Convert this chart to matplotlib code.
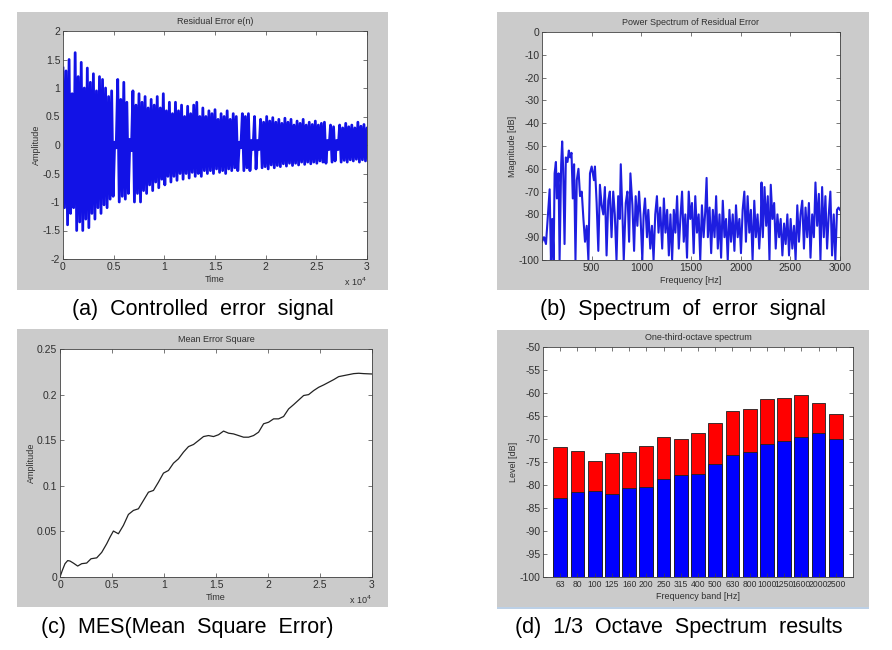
import numpy as np
import matplotlib
matplotlib.use("Agg")
import matplotlib.pyplot as plt
from matplotlib.patches import Rectangle

plt.rcParams['font.family'] = ['Liberation Sans', 'DejaVu Sans']
plt.rcParams['axes.unicode_minus'] = False

# (a) residual error e(n): positive / negative swing read every 300 samples
t_a = np.arange(0, 30001, 300)
hi_a = [1.35, 1.3, 1.5, 0.9, 1.62, 1.2, 1.45, 1.0, 1.35, 1.1,
        1.25, 0.95, 1.2, 1.15, 1.0, 0.85, 0.95, 0.05, 1.15, 0.8,
        1.1, 0.75, 0.1, 0.95, 0.7, 0.9, 0.75, 0.85, 0.65, 0.8,
        0.7, 0.85, 0.65, 0.9, 0.6, 0.75, 0.55, 0.75, 0.6, 0.7,
        0.5, 0.68, 0.55, 0.7, 0.75, 0.5, 0.65, 0.5, 0.6, 0.55,
        0.62, 0.45, 0.55, 0.5, 0.6, 0.45, 0.55, 0.5, 0.05, 0.55,
        0.5, 0.55, 0.08, 0.5, 0.08, 0.45, 0.4, 0.5, 0.42, 0.48,
        0.4, 0.45, 0.38, 0.47, 0.4, 0.45, 0.35, 0.42, 0.38, 0.45,
        0.35, 0.4, 0.36, 0.42, 0.35, 0.38, 0.4, 0.08, 0.35, 0.32,
        0.08, 0.35, 0.3, 0.38, 0.32, 0.35, 0.3, 0.4, 0.33, 0.36, 0.3]
lo_a = [-1.1, -1.4, -1.2, -1.1, -1.5, -1.35, -1.5, -1.3, -1.45, -1.2,
        -1.3, -1.1, -1.2, -1.05, -1.1, -0.95, -0.9, -0.05, -1.0, -0.9,
        -0.95, -0.85, -0.1, -1.0, -0.85, -1.0, -0.8, -0.85, -0.7, -0.8,
        -0.65, -0.75, -0.6, -0.7, -0.55, -0.65, -0.55, -0.62, -0.5, -0.6,
        -0.5, -0.58, -0.48, -0.55, -0.5, -0.55, -0.45, -0.5, -0.45, -0.5,
        -0.42, -0.48, -0.45, -0.5, -0.42, -0.45, -0.4, -0.45, -0.05, -0.45,
        -0.4, -0.45, -0.08, -0.42, -0.08, -0.4, -0.38, -0.42, -0.35, -0.4,
        -0.36, -0.38, -0.33, -0.37, -0.32, -0.36, -0.32, -0.35, -0.3, -0.34,
        -0.3, -0.33, -0.3, -0.32, -0.28, -0.3, -0.32, -0.08, -0.3, -0.28,
        -0.08, -0.3, -0.27, -0.3, -0.26, -0.28, -0.25, -0.3, -0.26, -0.28, -0.25]

# (b) power spectrum of residual error
spec_f = [0, 20, 40, 60, 77, 90, 103, 117, 127, 140, 150, 167, 177, 193, 203,
          213, 227, 240, 257, 270, 283, 297, 310, 323, 337, 350, 367, 383, 400,
          417, 433, 450, 467, 483, 500, 523, 533, 550, 567, 583, 600, 617, 633,
          650, 667, 683, 700, 717, 733, 750, 767, 783, 793, 810, 823, 843, 860,
          877, 890, 910, 927, 943, 960, 977, 993, 1010, 1023, 1037, 1057, 1070,
          1090, 1107, 1123, 1140, 1157, 1173, 1190, 1210, 1227, 1243, 1260, 1277,
          1293, 1310, 1327, 1343, 1360, 1377, 1393, 1410, 1427, 1443, 1460, 1477,
          1493, 1510, 1527, 1543, 1560, 1577, 1593, 1610, 1627, 1643, 1657, 1670,
          1687, 1703, 1720, 1737, 1753, 1770, 1787, 1803, 1820, 1837, 1853, 1870,
          1887, 1903, 1920, 1937, 1953, 1970, 1987, 2003, 2020, 2037, 2053, 2070,
          2087, 2103, 2120, 2137, 2153, 2170, 2187, 2203, 2210, 2223, 2240, 2257,
          2273, 2290, 2303, 2320, 2337, 2353, 2370, 2387, 2403, 2420, 2437, 2453,
          2470, 2487, 2503, 2520, 2537, 2553, 2570, 2587, 2603, 2620, 2637, 2653,
          2670, 2687, 2703, 2720, 2737, 2753, 2770, 2787, 2803, 2820, 2837, 2853,
          2870, 2887, 2903, 2920, 2937, 2953, 2970, 2985, 3000]
spec_db = [-92, -90, -93, -80, -69, -100, -82, -100, -62, -57, -73, -62, -100, -58, -48,
           -60, -93, -55, -57, -52, -55, -53, -73, -58, -100, -65, -60, -72, -70,
           -82, -92, -85, -100, -62, -59, -65, -59, -75, -96, -67, -76, -80, -68,
           -98, -74, -70, -90, -70, -80, -100, -72, -82, -58, -80, -100, -75, -70,
           -92, -62, -76, -96, -72, -85, -70, -82, -100, -80, -73, -90, -78,
           -95, -85, -100, -80, -72, -88, -77, -95, -73, -88, -78, -98,
           -80, -100, -78, -88, -72, -95, -82, -70, -92, -80, -99, -70,
           -82, -75, -97, -72, -88, -80, -100, -76, -90, -79, -64, -90,
           -77, -97, -78, -90, -72, -95, -80, -99, -74, -90, -82, -100,
           -78, -92, -80, -96, -76, -90, -82, -97, -78, -70, -92, -72,
           -88, -78, -100, -74, -90, -80, -95, -82, -66, -90, -68, -85,
           -72, -100, -67, -82, -75, -95, -80, -90, -82, -98, -84, -93,
           -80, -98, -82, -95, -85, -100, -76, -92, -80, -74, -95, -77,
           -90, -75, -99, -80, -90, -66, -85, -71, -100, -68, -90, -72,
           -95, -80, -70, -98, -80, -100, -78, -77, -78]

# (c) mean error square
t_c = [0, 225, 481, 738, 963, 1280, 1700, 2086, 2567, 2984, 3530, 4011, 4493,
       4813, 5134, 5616, 6097, 6578, 7060, 7541, 8022, 8504, 8985, 9466, 9948,
       10429, 10911, 11392, 11873, 12355, 12836, 13317, 13799, 14280, 14761,
       15243, 15724, 16206, 16687, 17168, 17650, 18131, 18612, 19094, 19575,
       20056, 20538, 21019, 21500, 21982, 22463, 22945, 23426, 23907, 24389,
       24870, 25351, 25833, 26314, 26795, 27277, 27758, 28239, 28721, 29202, 30000]
mse_c = [0, 0.0073, 0.0146, 0.018, 0.0175, 0.0153, 0.012, 0.0146, 0.0153, 0.020,
         0.021, 0.027, 0.0365, 0.0438, 0.0504, 0.0474, 0.0566, 0.0686, 0.073,
         0.0748, 0.0839, 0.093, 0.0949, 0.104, 0.1139, 0.1168, 0.1248, 0.1296,
         0.1369, 0.143, 0.1453, 0.1496, 0.154, 0.1551, 0.154, 0.156, 0.160,
         0.1577, 0.1569, 0.1551, 0.1533, 0.1533, 0.1551, 0.1588, 0.168, 0.1697,
         0.1734, 0.1734, 0.176, 0.1843, 0.189, 0.194, 0.199, 0.2, 0.2044, 0.208,
         0.2106, 0.2135, 0.2164, 0.2197, 0.2208, 0.2219, 0.223, 0.2234, 0.223, 0.2226]

# (d) one-third-octave spectrum
bands = ['63', '80', '100', '125', '160', '200', '250', '315', '400', '500',
         '630', '800', '1000', '1250', '1600', '2000', '2500']
level_red = [-71.8, -72.7, -74.8, -73.1, -72.9, -71.6, -69.6, -70.0, -68.7, -66.5,
             -64.0, -63.5, -61.3, -61.0, -60.5, -62.2, -64.6]
level_blue = [-82.9, -81.6, -81.2, -81.9, -80.6, -80.5, -78.8, -77.8, -77.5, -75.5,
              -73.5, -72.8, -71.0, -70.4, -69.5, -68.8, -70.0]

captions = ['(a)  Controlled  error  signal', '(b)  Spectrum  of  error  signal',
            '(c)  MES(Mean  Square  Error)', '(d)  1/3  Octave  Spectrum  results']

W, H = 892, 650
GRAY = '#cbcbcb'
TXT = '#303030'
FS = 6.5     # titles / axis labels
FT = 7.5     # tick labels


def fbox(x0, y0, x1, y1):
    # pixel box (top-left origin) -> figure fraction rect
    return [x0 / W, 1 - y1 / H, (x1 - x0) / W, (y1 - y0) / H]


def matlab_axes(fig, rect):
    ax = fig.add_axes(rect, zorder=2)
    ax.set_facecolor('white')
    for s in ax.spines.values():
        s.set_color('#404040')
        s.set_linewidth(0.6)
    ax.tick_params(direction='in', length=3, width=0.5, labelsize=FT,
                   colors='#404040', labelcolor=TXT, top=True, right=True, pad=2)
    return ax


fig = plt.figure(figsize=(W / 100, H / 100), dpi=100)
fig.patch.set_facecolor('white')

for (x0, y0, x1, y1) in [(17, 12, 388, 290), (497, 12, 869, 290),
                         (17, 329, 388, 607), (497, 330, 869, 608)]:
    r = fbox(x0, y0, x1, y1)
    fig.patches.append(Rectangle((r[0], r[1]), r[2], r[3], transform=fig.transFigure,
                                 facecolor=GRAY, edgecolor='none', zorder=-1))
r = fbox(497, 607, 869, 609)
fig.patches.append(Rectangle((r[0], r[1]), r[2], r[3], transform=fig.transFigure,
                             facecolor='#bcd0e6', edgecolor='none', zorder=-1))

xt = np.arange(0, 30001, 5000)
xtl = ['0', '0.5', '1', '1.5', '2', '2.5', '3']

# (a) signal drawn as an oscillation between the read swings
ax = matlab_axes(fig, fbox(63, 31, 367, 259))
x_z = np.column_stack([t_a, t_a + 150]).ravel()
y_z = np.column_stack([hi_a, lo_a]).ravel()
ax.plot(x_z, y_z, color='#1212e6', lw=2.0)
ax.set_xlim(0, 30000)
ax.set_ylim(-2, 2)
ax.set_xticks(xt)
ax.set_xticklabels(xtl)
yt = np.arange(-2, 2.01, 0.5)
ax.set_yticks(yt)
ax.set_yticklabels(['%g' % v for v in yt])
ax.set_title('Residual Error e(n)', fontsize=FS, color=TXT, pad=5)
ax.set_xlabel('Time', fontsize=FS, color=TXT, labelpad=2)
ax.set_ylabel('Amplitude', fontsize=FS, color=TXT, labelpad=1)
ax.text(1.0, -0.075, r'x 10$^{4}$', transform=ax.transAxes, ha='right', va='top',
        fontsize=FS, color=TXT)

# (b)
ax = matlab_axes(fig, fbox(542, 32, 840, 260))
ax.plot(spec_f, spec_db, color='#1e1ee0', lw=1.5)
ax.set_xlim(0, 3000)
ax.set_ylim(-100, 0)
ax.set_xticks(np.arange(500, 3001, 500))
ax.set_yticks(np.arange(-100, 1, 10))
ax.set_title('Power Spectrum of Residual Error', fontsize=FS, color=TXT, pad=5)
ax.set_xlabel('Frequency [Hz]', fontsize=FS, color=TXT, labelpad=2)
ax.set_ylabel('Magnitude [dB]', fontsize=FS, color=TXT, labelpad=1)

# (c)
ax = matlab_axes(fig, fbox(60, 349, 372, 577))
ax.plot(t_c, mse_c, color='#222222', lw=0.9)
ax.set_xlim(0, 30000)
ax.set_ylim(0, 0.25)
ax.set_xticks(xt)
ax.set_xticklabels(xtl)
yt = np.arange(0, 0.251, 0.05)
ax.set_yticks(yt)
ax.set_yticklabels(['%g' % round(v, 2) for v in yt])
ax.set_title('Mean Error Square', fontsize=FS, color=TXT, pad=5)
ax.set_xlabel('Time', fontsize=FS, color=TXT, labelpad=2)
ax.set_ylabel('Amplitude', fontsize=FS, color=TXT, labelpad=1)
ax.text(1.0, -0.075, r'x 10$^{4}$', transform=ax.transAxes, ha='right', va='top',
        fontsize=FS, color=TXT)

# (d)
ax = matlab_axes(fig, fbox(543, 347, 853, 577))
xb = np.arange(1, len(bands) + 1)
ax.bar(xb, np.array(level_red) + 100, bottom=-100, width=0.8,
       color='#ff0000', edgecolor='#202020', lw=0.6)
ax.bar(xb, np.array(level_blue) + 100, bottom=-100, width=0.8,
       color='#0000ff', edgecolor='#202020', lw=0.6)
ax.set_xlim(0, 18)
ax.set_ylim(-100, -50)
ax.set_xticks(xb)
ax.set_xticklabels(bands)
ax.tick_params(axis='x', labelsize=6.2)
ax.set_yticks(np.arange(-100, -49, 5))
ax.set_title('One-third-octave spectrum', fontsize=FS, color=TXT, pad=5)
ax.set_xlabel('Frequency band [Hz]', fontsize=FS, color=TXT, labelpad=2)
ax.set_ylabel('Level [dB]', fontsize=FS, color=TXT, labelpad=1)

# captions
for (cx, cy), txt in zip([(203, 309), (683, 309), (187, 627), (679, 627)], captions):
    fig.text(cx / W, 1 - cy / H, txt, ha='center', va='center', fontsize=15.5, color='black')

fig.savefig('out.png', dpi=100)
